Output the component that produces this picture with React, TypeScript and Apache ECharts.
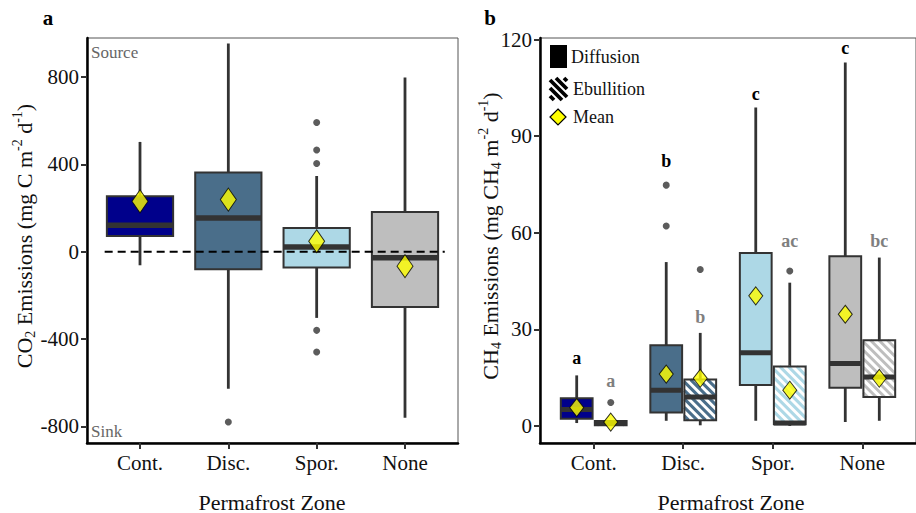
import React, { useEffect, useRef } from "react";
import * as echarts from "echarts";

const zones = ["Cont.", "Disc.", "Spor.", "None"];
const zoneColors = ["#00008B", "#4A6E8A", "#ADD8E6", "#BEBEBE"];

// Panel a: CO2
const co2Low = [-62, -627, -303, -760];
const co2Q1 = [72, -80, -72, -253];
const co2Median = [121, 155, 22, -27];
const co2Q3 = [254, 363, 109, 182];
const co2High = [503, 954, 347, 798];
const co2Mean = [231, 239, 48, -66];
const co2Outliers = [
  [2, -780],
  [3, 592],
  [3, 466],
  [3, 404],
  [3, -360],
  [3, -459],
];
const co2Ticks = [-800, -400, 0, 400, 800];

// Panel b: CH4 diffusion
const diffLow = [0.9, 1.6, 1.6, 1.2];
const diffQ1 = [2.2, 4.2, 12.7, 11.9];
const diffMedian = [5.1, 11.1, 22.7, 19.4];
const diffQ3 = [8.6, 25.1, 53.7, 52.7];
const diffHigh = [15.7, 50.9, 98.9, 112.9];
const diffMean = [5.7, 16.1, 40.4, 34.7];
const diffOutliers = [
  [2, 74.8],
  [2, 62.1],
];
const diffLetters = ["a", "b", "c", "c"];
const diffLetterY = [21.0, 82.3, 103.0, 117.5];

// Panel b: CH4 ebullition
const ebuLow = [0.1, 0.2, 0.0, 1.6];
const ebuQ1 = [0.2, 1.8, 0.5, 9.0];
const ebuMedian = [0.8, 9.0, 0.9, 15.2];
const ebuQ3 = [1.5, 14.4, 18.5, 26.6];
const ebuHigh = [1.5, 28.9, 44.5, 52.3];
const ebuMean = [1.2, 14.8, 11.1, 14.8];
const ebuOutliers = [
  [1, 7.3],
  [2, 48.6],
  [3, 48.1],
];
const ebuLetters = ["a", "b", "ac", "bc"];
const ebuLetterY = [14.0, 33.8, 57.6, 57.6];
const ch4Ticks = [0, 30, 60, 90, 120];

const FONT = "'Liberation Serif', 'Times New Roman', serif";
const DODGE = 0.19;

function hatchSegments(x0: number, y0: number, x1: number, y1: number, step: number) {
  const segs: number[][] = [];
  for (let c = x0 - y1 + step / 2; c < x1 - y0; c += step) {
    const ya = Math.max(y0, x0 - c);
    const yb = Math.min(y1, x1 - c);
    if (yb > ya) segs.push([ya + c, ya, yb + c, yb]);
  }
  return segs;
}

function boxSeries(
  axisIndex: number,
  data: number[][],
  o: { border: number; median: number; whisker: number; hatchW: number; hatchStep: number }
) {
  return {
    type: "custom",
    xAxisIndex: axisIndex,
    yAxisIndex: axisIndex,
    z: 2,
    encode: { x: 0, y: [1, 2, 3, 4, 5] },
    data,
    renderItem: (params: any, api: any) => {
      const x = api.value(0);
      const low = api.value(1);
      const q1 = api.value(2);
      const med = api.value(3);
      const q3 = api.value(4);
      const high = api.value(5);
      const ci = api.value(6);
      const hatch = api.value(7);
      const w = api.value(8);
      const color = zoneColors[ci];
      const pHigh = api.coord([x, high]);
      const pLow = api.coord([x, low]);
      const pA = api.coord([x - w / 2, q3]);
      const pB = api.coord([x + w / 2, q1]);
      const pMed = api.coord([x, med]);
      const rx = pA[0];
      const ry = pA[1];
      const rw = pB[0] - pA[0];
      const rh = Math.max(pB[1] - pA[1], 1);
      const children: any[] = [
        {
          type: "line",
          shape: { x1: pHigh[0], y1: pHigh[1], x2: pLow[0], y2: pLow[1] },
          style: { stroke: "#333333", lineWidth: o.whisker },
        },
        {
          type: "rect",
          shape: { x: rx, y: ry, width: rw, height: rh },
          style: { fill: hatch ? "#ffffff" : color, stroke: "none" },
        },
      ];
      if (hatch) {
        hatchSegments(rx, ry, rx + rw, ry + rh, o.hatchStep).forEach((s) => {
          children.push({
            type: "line",
            shape: { x1: s[0], y1: s[1], x2: s[2], y2: s[3] },
            style: { stroke: color, lineWidth: o.hatchW },
          });
        });
      }
      children.push({
        type: "rect",
        shape: { x: rx, y: ry, width: rw, height: rh },
        style: { fill: "none", stroke: "#333333", lineWidth: o.border },
      });
      children.push({
        type: "line",
        shape: { x1: rx, y1: pMed[1], x2: rx + rw, y2: pMed[1] },
        style: { stroke: "#333333", lineWidth: o.median },
      });
      return { type: "group", children };
    },
  };
}

function letterSeries(axisIndex: number, data: number[][], letters: string[], color: string) {
  return {
    type: "custom",
    xAxisIndex: axisIndex,
    yAxisIndex: axisIndex,
    z: 5,
    data,
    renderItem: (params: any, api: any) => {
      const p = api.coord([api.value(0), api.value(1)]);
      return {
        type: "text",
        x: p[0],
        y: p[1],
        style: {
          text: letters[params.dataIndex],
          fill: color,
          font: `bold 18px ${FONT}`,
          align: "center",
          verticalAlign: "middle",
        },
      };
    },
  };
}

function xAxisCfg(gridIndex: number) {
  return {
    type: "value",
    gridIndex,
    min: 0.4,
    max: 4.6,
    splitLine: { show: false },
    axisLine: { show: true, onZero: false, lineStyle: { color: "#000", width: 2.5 } },
    axisTick: { show: true, customValues: [1, 2, 3, 4], length: 6, lineStyle: { color: "#333", width: 2 } },
    axisLabel: {
      customValues: [1, 2, 3, 4],
      formatter: (v: number) => zones[Math.round(v) - 1] ?? "",
      fontFamily: FONT,
      fontSize: 21,
      color: "#111",
      margin: 9,
    },
  };
}

function yAxisCfg(gridIndex: number, min: number, max: number, ticks: number[]) {
  return {
    type: "value",
    gridIndex,
    min,
    max,
    splitLine: { show: false },
    axisLine: { show: true, onZero: false, lineStyle: { color: "#000", width: 2.5 } },
    axisTick: { show: true, customValues: ticks, length: 6, lineStyle: { color: "#333", width: 2 } },
    axisLabel: {
      customValues: ticks,
      fontFamily: FONT,
      fontSize: 21,
      color: "#111",
      margin: 8,
    },
  };
}

const richTitle = {
  n: { fontFamily: FONT, fontSize: 22, lineHeight: 27, fill: "#111" },
  sub: { fontFamily: FONT, fontSize: 14, lineHeight: 14, verticalAlign: "bottom", fill: "#111" },
  sup: { fontFamily: FONT, fontSize: 14, lineHeight: 14, verticalAlign: "top", fill: "#111" },
};

export default function App() {
  const ref = useRef<HTMLDivElement>(null);
  useEffect(() => {
    if (!ref.current) return;
    const chart = echarts.init(ref.current, null, { renderer: "svg" });

    const co2Data = zones.map((_, i) => [i + 1, co2Low[i], co2Q1[i], co2Median[i], co2Q3[i], co2High[i], i, 0, 0.75]);
    const diffData = zones.map((_, i) => [i + 1 - DODGE, diffLow[i], diffQ1[i], diffMedian[i], diffQ3[i], diffHigh[i], i, 0, 0.355]);
    const ebuData = zones.map((_, i) => [i + 1 + DODGE, ebuLow[i], ebuQ1[i], ebuMedian[i], ebuQ3[i], ebuHigh[i], i, 1, 0.355]);

    const legendHatch = hatchSegments(550, 78, 567, 100, 8).map((s) => ({
      type: "line",
      shape: { x1: s[0], y1: s[1], x2: s[2], y2: s[3] },
      style: { stroke: "#000", lineWidth: 3.8 },
    }));

    chart.setOption({
      animation: false,
      grid: [
        { left: 87, top: 38, width: 371, height: 405, show: true, borderColor: "#555", borderWidth: 1, backgroundColor: "transparent" },
        { left: 540, top: 38, width: 380, height: 405, show: true, borderColor: "#555", borderWidth: 1, backgroundColor: "transparent" },
      ],
      xAxis: [xAxisCfg(0), xAxisCfg(1)],
      yAxis: [yAxisCfg(0, -876, 979, co2Ticks), yAxisCfg(1, -5.3, 120.5, ch4Ticks)],
      series: [
        boxSeries(0, co2Data, { border: 2, median: 5.5, whisker: 2.8, hatchW: 3, hatchStep: 8 }),
        {
          type: "line",
          xAxisIndex: 0,
          yAxisIndex: 0,
          z: 3,
          data: [
            [0.6, 0],
            [4.45, 0],
          ],
          symbol: "none",
          lineStyle: { color: "#000", width: 2, type: [8, 5] },
        },
        {
          type: "scatter",
          xAxisIndex: 0,
          yAxisIndex: 0,
          z: 3,
          symbol: "circle",
          symbolSize: 7,
          itemStyle: { color: "#333" },
          data: co2Outliers,
        },
        {
          type: "scatter",
          xAxisIndex: 0,
          yAxisIndex: 0,
          z: 4,
          symbol: "diamond",
          symbolSize: [16, 23],
          itemStyle: { color: "#FFFF00", borderColor: "#000", borderWidth: 1 },
          data: co2Mean.map((m, i) => [i + 1, m]),
        },
        boxSeries(1, diffData, { border: 2, median: 5, whisker: 2.8, hatchW: 3, hatchStep: 8.5 }),
        boxSeries(1, ebuData, { border: 2, median: 5, whisker: 2.8, hatchW: 3, hatchStep: 8.5 }),
        {
          type: "scatter",
          xAxisIndex: 1,
          yAxisIndex: 1,
          z: 3,
          symbol: "circle",
          symbolSize: 7,
          itemStyle: { color: "#333" },
          data: [
            ...diffOutliers.map((d) => [d[0] - DODGE, d[1]]),
            ...ebuOutliers.map((d) => [d[0] + DODGE, d[1]]),
          ],
        },
        {
          type: "scatter",
          xAxisIndex: 1,
          yAxisIndex: 1,
          z: 4,
          symbol: "diamond",
          symbolSize: [14, 18],
          itemStyle: { color: "#FFFF00", borderColor: "#000", borderWidth: 1 },
          data: [
            ...diffMean.map((m, i) => [i + 1 - DODGE, m]),
            ...ebuMean.map((m, i) => [i + 1 + DODGE, m]),
          ],
        },
        letterSeries(1, diffLetterY.map((y, i) => [i + 1 - DODGE, y]), diffLetters, "#000"),
        letterSeries(1, ebuLetterY.map((y, i) => [i + 1 + DODGE, y]), ebuLetters, "#7f7f7f"),
      ],
      graphic: [
        { type: "text", x: 48, y: 18, style: { text: "a", font: `bold 21px ${FONT}`, fill: "#000", align: "center", verticalAlign: "middle" } },
        { type: "text", x: 490, y: 18, style: { text: "b", font: `bold 21px ${FONT}`, fill: "#000", align: "center", verticalAlign: "middle" } },
        { type: "text", x: 91, y: 52, style: { text: "Source", font: `17px ${FONT}`, fill: "#666", align: "left", verticalAlign: "middle" } },
        { type: "text", x: 91, y: 431, style: { text: "Sink", font: `17px ${FONT}`, fill: "#666", align: "left", verticalAlign: "middle" } },
        {
          type: "text",
          x: 24,
          y: 236,
          rotation: Math.PI / 2,
          style: {
            text: "{n|CO}{sub|2}{n| Emissions (mg C m}{sup|-2}{n| d}{sup|-1}{n|)}",
            rich: richTitle,
            align: "center",
            verticalAlign: "middle",
          },
        },
        {
          type: "text",
          x: 490,
          y: 236,
          rotation: Math.PI / 2,
          style: {
            text: "{n|CH}{sub|4}{n| Emissions (mg CH}{sub|4}{n| m}{sup|-2}{n| d}{sup|-1}{n|)}",
            rich: richTitle,
            align: "center",
            verticalAlign: "middle",
          },
        },
        { type: "text", x: 272, y: 502, style: { text: "Permafrost Zone", font: `22px ${FONT}`, fill: "#111", align: "center", verticalAlign: "middle" } },
        { type: "text", x: 731, y: 502, style: { text: "Permafrost Zone", font: `22px ${FONT}`, fill: "#111", align: "center", verticalAlign: "middle" } },
        // legend
        { type: "rect", shape: { x: 550, y: 45, width: 17, height: 23 }, style: { fill: "#000" } },
        { type: "text", x: 571, y: 57, style: { text: "Diffusion", font: `18px ${FONT}`, fill: "#111", align: "left", verticalAlign: "middle" } },
        { type: "rect", shape: { x: 550, y: 78, width: 17, height: 22 }, style: { fill: "#fff" } },
        ...legendHatch,
        { type: "text", x: 573, y: 89, style: { text: "Ebullition", font: `18px ${FONT}`, fill: "#111", align: "left", verticalAlign: "middle" } },
        {
          type: "polygon",
          shape: { points: [[558, 109], [566, 117], [558, 125], [550, 117]] },
          style: { fill: "#FFFF00", stroke: "#000", lineWidth: 1.2 },
        },
        { type: "text", x: 573, y: 117, style: { text: "Mean", font: `18px ${FONT}`, fill: "#111", align: "left", verticalAlign: "middle" } },
      ],
    });
    return () => chart.dispose();
  }, []);
  return <div ref={ref} style={{ position: "absolute", left: 0, top: 0, width: 916, height: 513 }} />;
}
